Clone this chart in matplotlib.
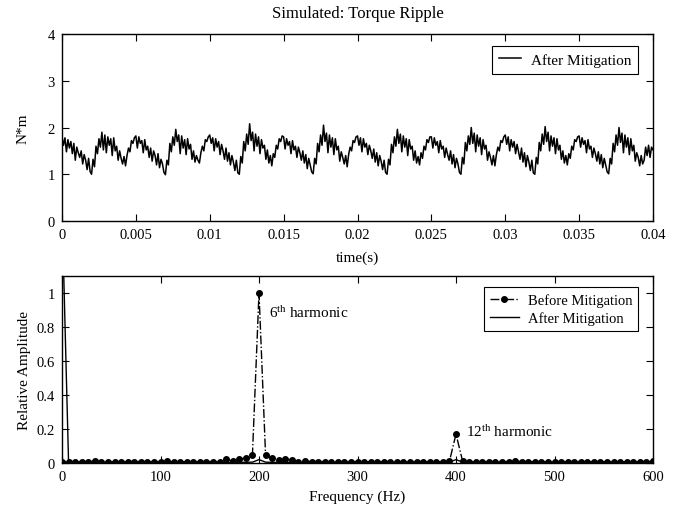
import numpy as np
import matplotlib
matplotlib.use("Agg")
import matplotlib.pyplot as plt

plt.rcParams['font.family'] = ['Liberation Serif', 'DejaVu Serif']
plt.rcParams['mathtext.fontset'] = 'custom'
plt.rcParams['mathtext.rm'] = 'Liberation Serif'
plt.rcParams['mathtext.it'] = 'Liberation Serif:italic'
plt.rcParams['font.size'] = 10

# ---------------- data ----------------
t_start, t_end = 0.0, 0.04
torque_after = [
    # period 1
    1.80,1.62,1.78,1.48,1.74,1.56,1.70,1.44,1.66,1.30,1.58,1.46,1.36,1.50,1.22,1.42,1.30,1.10,1.34,1.06,
    1.00,1.32,1.16,1.60,1.44,1.76,1.58,1.90,1.52,1.84,1.46,1.80,1.62,1.76,1.40,1.78,1.50,1.60,1.30,1.50,
    1.34,1.22,1.38,1.18,1.40,1.56,1.48,1.72,1.66,1.78,
    # period 2
    1.82,1.56,1.80,1.66,1.72,1.46,1.74,1.52,1.60,1.36,1.56,1.28,1.50,1.40,1.20,1.44,1.14,1.32,1.22,1.04,
    0.99,1.30,1.20,1.66,1.48,1.80,1.62,1.96,1.70,1.84,1.44,1.82,1.56,1.74,1.42,1.76,1.54,1.64,1.32,1.50,
    1.26,1.40,1.30,1.24,1.46,1.60,1.50,1.74,1.70,1.80,
    # period 3
    1.84,1.66,1.78,1.50,1.76,1.58,1.70,1.42,1.64,1.50,1.32,1.56,1.28,1.46,1.20,1.40,1.26,1.08,1.30,1.03,
    1.00,1.38,1.24,1.70,1.50,1.86,1.64,2.08,1.72,1.90,1.50,1.86,1.60,1.80,1.44,1.74,1.56,1.62,1.32,1.52,
    1.24,1.40,1.18,1.44,1.36,1.62,1.54,1.76,1.70,1.82,
    # period 4
    1.80,1.54,1.76,1.62,1.70,1.44,1.72,1.52,1.60,1.36,1.58,1.46,1.30,1.50,1.24,1.42,1.12,1.34,1.20,1.05,
    1.01,1.34,1.22,1.66,1.48,1.84,1.62,2.05,1.70,1.88,1.46,1.84,1.58,1.78,1.42,1.76,1.52,1.60,1.28,1.48,
    1.36,1.22,1.40,1.16,1.42,1.58,1.50,1.72,1.68,1.80,
    # period 5
    1.82,1.62,1.78,1.48,1.76,1.58,1.66,1.42,1.62,1.50,1.34,1.54,1.26,1.46,1.18,1.40,1.28,1.10,1.30,1.04,
    1.00,1.32,1.20,1.64,1.46,1.80,1.60,1.96,1.66,1.86,1.48,1.82,1.58,1.76,1.40,1.74,1.54,1.60,1.30,1.50,
    1.24,1.38,1.20,1.46,1.34,1.60,1.52,1.74,1.68,1.80,
    # period 6
    1.80,1.56,1.78,1.62,1.70,1.46,1.72,1.54,1.60,1.36,1.56,1.42,1.30,1.50,1.22,1.42,1.14,1.34,1.22,1.04,
    1.00,1.36,1.22,1.68,1.50,1.82,1.64,2.00,1.66,1.88,1.48,1.84,1.60,1.78,1.42,1.74,1.54,1.62,1.30,1.48,
    1.36,1.20,1.40,1.18,1.42,1.58,1.50,1.72,1.68,1.80,
    # period 7
    1.84,1.64,1.80,1.50,1.74,1.58,1.70,1.44,1.64,1.48,1.32,1.56,1.26,1.46,1.16,1.40,1.26,1.08,1.30,1.03,
    1.00,1.36,1.22,1.68,1.50,1.86,1.64,2.02,1.70,1.90,1.50,1.82,1.60,1.78,1.44,1.76,1.52,1.62,1.32,1.50,
    1.24,1.40,1.20,1.44,1.34,1.60,1.52,1.74,1.70,1.80,
    # period 8
    1.82,1.58,1.78,1.64,1.72,1.46,1.74,1.54,1.60,1.36,1.56,1.44,1.28,1.48,1.22,1.42,1.14,1.34,1.20,1.05,
    1.01,1.34,1.22,1.66,1.48,1.84,1.62,2.00,1.68,1.88,1.46,1.84,1.58,1.78,1.42,1.76,1.50,1.62,1.28,1.46,
    1.36,1.18,1.40,1.22,1.30,1.58,1.40,1.62,1.36,1.58,
    1.52,
]

freq_start, freq_end = 0.0, 600.0
amp_before = [
    0.004,0.006,0.005,0.007,0.006,0.014,0.007,0.006,0.008,0.007,
    0.006,0.008,0.007,0.006,0.007,0.008,0.012,0.006,0.007,0.006,
    0.008,0.007,0.006,0.008,0.007,0.023,0.010,0.023,0.029,0.048,
    1.000,0.046,0.027,0.019,0.023,0.019,0.008,0.012,0.007,0.006,
    0.008,0.006,0.007,0.006,0.008,0.007,0.006,0.007,0.008,0.006,
    0.007,0.006,0.008,0.007,0.006,0.007,0.008,0.006,0.007,0.010,
    0.170,0.012,0.007,0.006,0.008,0.007,0.006,0.007,0.008,0.012,
    0.007,0.006,0.008,0.007,0.006,0.007,0.008,0.006,0.007,0.006,
    0.008,0.007,0.006,0.007,0.008,0.006,0.007,0.006,0.008,0.007,
    0.010,
]
amp_after = [
    1.500,0.004,0.003,0.004,0.003,0.004,0.003,0.004,0.003,0.004,
    0.003,0.004,0.003,0.004,0.003,0.004,0.003,0.004,0.003,0.004,
    0.003,0.004,0.003,0.004,0.003,0.004,0.003,0.004,0.004,0.005,
    0.020,0.005,0.004,0.003,0.004,0.003,0.004,0.003,0.004,0.003,
    0.004,0.003,0.004,0.003,0.004,0.003,0.004,0.003,0.004,0.003,
    0.004,0.003,0.004,0.003,0.004,0.003,0.004,0.003,0.004,0.005,
    0.020,0.005,0.004,0.003,0.004,0.003,0.004,0.003,0.004,0.003,
    0.004,0.003,0.004,0.003,0.004,0.003,0.004,0.003,0.004,0.003,
    0.004,0.003,0.004,0.003,0.004,0.003,0.004,0.003,0.004,0.003,
    0.004,
]

top_xticks = [0, 0.005, 0.01, 0.015, 0.02, 0.025, 0.03, 0.035, 0.04]
top_xlabels = ['0', '0.005', '0.01', '0.015', '0.02', '0.025', '0.03', '0.035', '0.04']
top_yticks = [0, 1, 2, 3, 4]
bot_xticks = [0, 100, 200, 300, 400, 500, 600]
bot_yticks = [0, 0.2, 0.4, 0.6, 0.8, 1.0]
bot_ylabels = ['0', '0.2', '0.4', '0.6', '0.8', '1']

t = np.linspace(t_start, t_end, len(torque_after))
f = np.linspace(freq_start, freq_end, len(amp_before))

# ---------------- figure ----------------
fig = plt.figure(figsize=(6.8, 5.1), dpi=100)
ax1 = fig.add_axes([62/680, 1-222/510, 591/680, 187/510])
ax2 = fig.add_axes([62/680, 1-464/510, 591/680, 187/510])

for ax in (ax1, ax2):
    ax.tick_params(direction='in', top=True, right=True, length=5, width=0.8,
                   labelsize=10.5, colors='black', pad=5)
    for s in ax.spines.values():
        s.set_linewidth(1.0)

ax1.plot(t, torque_after, color='black', linewidth=1.1, label='After Mitigation')
ax1.set_xlim(0, 0.04)
ax1.set_ylim(0, 4)
ax1.set_xticks(top_xticks)
ax1.set_xticklabels(top_xlabels)
ax1.set_yticks(top_yticks)
ax1.set_xlabel('time(s)', fontsize=11, labelpad=7)
ax1.set_ylabel('N*m', fontsize=11, labelpad=13)
ax1.set_title('Simulated: Torque Ripple', fontsize=12, pad=12)
leg1 = ax1.legend(loc='upper right', bbox_to_anchor=(576/591, 175/187), borderaxespad=0,
                  fancybox=False, edgecolor='black', framealpha=1, fontsize=11,
                  handlelength=1.5, borderpad=0.45, handletextpad=0.6)
leg1.get_frame().set_linewidth(0.8)

ax2.plot(f, amp_before, color='black', linestyle='-.', linewidth=1.0, marker='o',
         markersize=4.0, label='Before Mitigation')
ax2.plot(f, amp_after, color='black', linestyle='-', linewidth=1.0, label='After Mitigation')
ax2.set_xlim(0, 600)
ax2.set_ylim(0, 1.1)
ax2.set_xticks(bot_xticks)
ax2.set_yticks(bot_yticks)
ax2.set_yticklabels(bot_ylabels)
ax2.set_xlabel('Frequency (Hz)', fontsize=11, labelpad=5)
ax2.set_ylabel('Relative Amplitude', fontsize=11, labelpad=4)
leg2 = ax2.legend(loc='upper right', bbox_to_anchor=(576/591, 176/187), borderaxespad=0,
                  fancybox=False, edgecolor='black', framealpha=1, fontsize=10.5,
                  handlelength=2.0, borderpad=0.4, handletextpad=0.6, labelspacing=0.3)
leg2.get_frame().set_linewidth(0.8)

ax2.text(210, 0.885, r'6$^{\mathrm{th}}$ harmonic', fontsize=11, va='center', ha='left')
ax2.text(410, 0.19, r'12$^{\mathrm{th}}$ harmonic', fontsize=11, va='center', ha='left')

fig.savefig('out.png', dpi=100)
